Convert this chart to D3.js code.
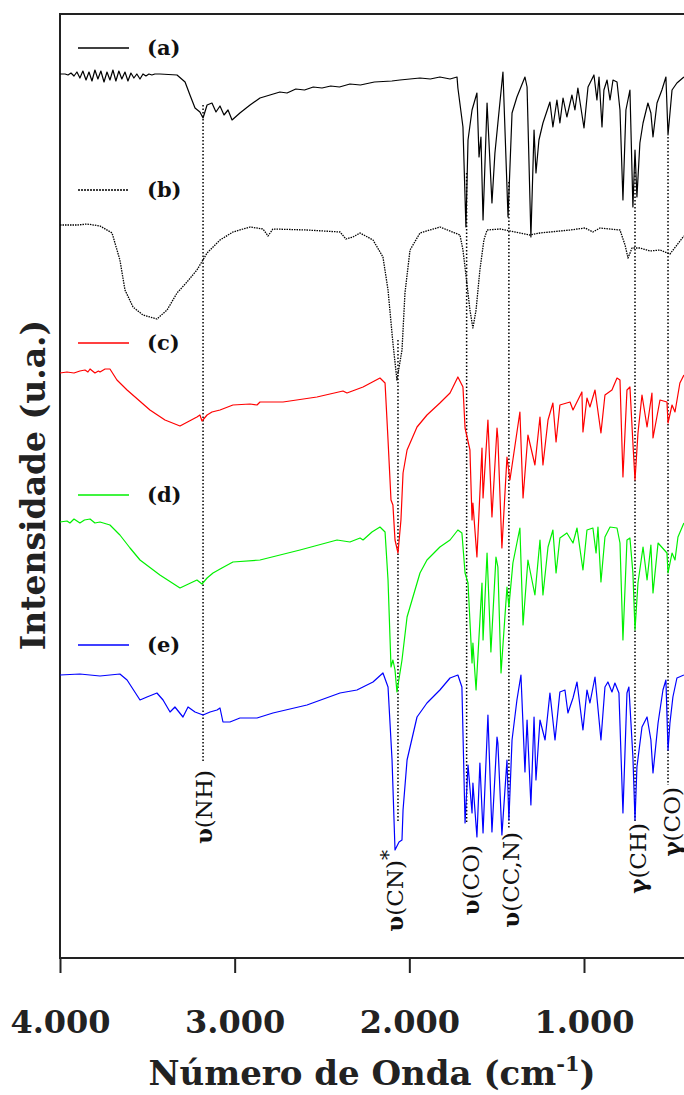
<!DOCTYPE html>
<html><head><meta charset="utf-8">
<script src="https://cdn.jsdelivr.net/npm/d3@7/dist/d3.min.js"></script>
<style>body{margin:0;background:#fff}</style>
</head><body><svg id="c" width="684" height="1095"></svg>
<script>
// ---------------- DATA ----------------
const majorTicks = [4000, 3000, 2000, 1000];
const tickLabels = ["4.000", "3.000", "2.000", "1.000"];
const minorTicks = [3800,3600,3400,3200,2800,2600,2400,2200,1800,1600,1400,1200,800,600,400];
const seriesNames = ["(a)", "(b)", "(c)", "(d)", "(e)"];
const seriesColors = ["#000000", "#000000", "#ff0000", "#00f000", "#0000ff"];

// [wavenumber (cm-1), intensity (u.a.)]
const specA = [[4000,884],[3971,884],[3954,883],[3937,885],[3920,882],[3903,886],[3886,880],[3869,887],[3851,878],[3834,886],[3817,877],[3800,888],[3783,879],[3766,887],[3748,876],[3731,886],[3714,878],[3697,888],[3680,877],[3663,887],[3646,879],[3628,886],[3611,877],[3594,885],[3577,880],[3560,884],[3542,879],[3525,884],[3508,882],[3491,884],[3474,883],[3457,884],[3428,884],[3330,883],[3284,876],[3256,863],[3227,850],[3199,846],[3181,840],[3158,853],[3130,855],[3107,846],[3084,852],[3061,843],[3038,848],[3015,838],[2970,845],[2912,853],[2855,860],[2798,863],[2741,866],[2700,865],[2650,869],[2600,868],[2550,871],[2500,870],[2450,872],[2400,871],[2340,874],[2280,873],[2200,876],[2100,877],[2054,878],[1939,880],[1880,879],[1825,881],[1767,879],[1727,881],[1722,870],[1693,831],[1676,731],[1664,818],[1641,848],[1613,865],[1601,801],[1590,821],[1578,738],[1555,855],[1527,755],[1510,805],[1493,835],[1464,886],[1435,741],[1412,845],[1384,861],[1338,881],[1326,871],[1304,721],[1286,828],[1275,785],[1258,818],[1235,835],[1195,856],[1178,831],[1155,858],[1138,835],[1120,860],[1098,841],[1069,863],[1052,848],[1035,870],[1000,830],[977,871],[943,883],[926,858],[914,881],[897,831],[886,868],[868,878],[851,858],[834,878],[811,876],[794,848],[777,758],[760,848],[737,868],[720,751],[708,808],[697,761],[680,815],[662,835],[634,855],[617,845],[605,821],[582,855],[554,868],[531,881],[519,823],[496,868],[468,875],[428,881]];

const specB = [[4000,733],[3900,733],[3845,734],[3771,732],[3702,725],[3657,698],[3628,668],[3582,651],[3525,643],[3445,639],[3387,648],[3330,665],[3273,676],[3216,688],[3158,705],[3084,718],[3010,726],[2912,731],[2838,729],[2809,722],[2781,729],[2586,728],[2397,726],[2363,719],[2323,721],[2282,725],[2208,718],[2151,701],[2122,668],[2094,615],[2071,578],[2042,608],[2025,665],[1996,708],[1939,725],[1825,731],[1710,723],[1693,708],[1676,683],[1653,648],[1636,630],[1618,648],[1596,688],[1573,718],[1555,728],[1481,729],[1309,723],[1252,725],[1080,728],[994,730],[949,726],[909,730],[794,728],[765,713],[748,700],[725,710],[680,710],[622,707],[565,708],[508,704],[468,713],[428,722]];

const specC = [[4000,585],[3960,586],[3920,585],[3886,587],[3857,588],[3840,586],[3828,589],[3800,585],[3780,587],[3771,586],[3742,589],[3714,589],[3674,578],[3616,568],[3485,548],[3399,538],[3313,532],[3216,541],[3199,543],[3187,537],[3158,543],[3130,546],[3084,548],[3010,553],[2912,554],[2872,553],[2855,556],[2723,556],[2529,561],[2380,567],[2357,565],[2265,571],[2168,580],[2139,575],[2122,518],[2105,458],[2094,453],[2082,418],[2065,405],[2048,438],[2036,485],[2013,508],[1956,531],[1899,543],[1825,555],[1767,565],[1722,581],[1693,571],[1681,530],[1653,508],[1641,438],[1636,455],[1613,401],[1584,510],[1578,460],[1550,538],[1527,441],[1498,530],[1493,520],[1470,410],[1441,501],[1424,478],[1367,546],[1349,460],[1321,523],[1281,493],[1252,541],[1235,493],[1206,538],[1178,555],[1160,516],[1138,553],[1080,556],[1063,548],[1012,566],[1006,526],[983,560],[966,551],[937,568],[903,525],[880,563],[840,568],[811,580],[794,578],[777,481],[754,568],[737,571],[720,515],[708,478],[691,525],[668,563],[639,531],[611,565],[605,520],[565,558],[525,556],[519,535],[496,553],[479,546],[451,575],[428,583]];

const specD = [[4000,436],[3960,437],[3943,435],[3920,439],[3886,435],[3860,438],[3828,439],[3800,435],[3771,436],[3714,433],[3657,423],[3599,410],[3542,398],[3428,383],[3313,370],[3216,378],[3187,374],[3158,380],[3124,385],[3073,390],[3010,396],[2855,398],[2626,408],[2414,418],[2340,416],[2282,420],[2265,418],[2214,426],[2168,431],[2139,426],[2122,378],[2105,291],[2094,298],[2082,288],[2071,266],[2042,298],[2013,341],[1939,385],[1899,398],[1825,411],[1767,418],[1722,428],[1699,425],[1681,385],[1664,375],[1641,295],[1636,315],[1618,268],[1584,375],[1578,318],[1555,405],[1533,306],[1504,401],[1493,391],[1475,285],[1441,371],[1430,351],[1407,395],[1367,430],[1349,333],[1321,398],[1281,363],[1252,418],[1235,363],[1206,411],[1178,428],[1160,385],[1138,420],[1098,425],[1063,415],[1040,430],[1006,388],[983,428],[949,430],[931,405],[920,431],[903,376],[880,421],[851,431],[811,430],[794,415],[777,318],[754,418],[737,420],[720,385],[708,328],[691,375],[662,411],[639,378],[617,413],[605,365],[576,415],[525,405],[519,385],[496,405],[479,398],[462,421],[428,435]];

const specE = [[4000,283],[3886,284],[3771,282],[3657,284],[3616,278],[3542,258],[3502,261],[3445,265],[3410,258],[3370,246],[3342,251],[3296,241],[3267,251],[3227,246],[3181,243],[3141,246],[3101,248],[3084,250],[3067,236],[3027,236],[2970,240],[2872,240],[2781,245],[2586,253],[2397,265],[2300,268],[2208,276],[2151,285],[2122,271],[2099,198],[2082,108],[2059,116],[2042,118],[2036,148],[2013,198],[1956,241],[1899,255],[1825,268],[1767,280],[1722,283],[1699,271],[1681,135],[1664,193],[1641,145],[1636,175],[1613,121],[1596,195],[1578,125],[1550,243],[1527,126],[1498,221],[1493,215],[1470,123],[1441,198],[1430,138],[1412,218],[1384,258],[1361,283],[1338,186],[1326,238],[1304,153],[1286,241],[1275,178],[1252,238],[1223,218],[1195,265],[1166,218],[1138,266],[1109,268],[1092,245],[1063,260],[1040,276],[1006,228],[983,268],[966,255],[937,281],[903,218],[880,271],[863,276],[840,266],[823,275],[800,265],[777,145],[754,265],[743,271],[720,201],[708,138],[697,191],[668,231],[639,241],[617,218],[605,185],[576,235],[548,268],[531,278],[519,208],[508,235],[491,261],[468,280],[428,283]];

// band assignments: wavenumber, line top/bottom intensity, label position (wn, intensity)
const bandLabels = ["υ(NH)", "υ(CN)", "υ(CO)", "υ(CC,N)", "γ(CH)", "γ(CO)"];
const bandWn     = [3181, 2065, 1672, 1430, 708, 519];
const bandTop    = [853, 618, 785, 776, 786, 821];
const bandBottom = [195, 135, 135, 130, 135, 173];
const labelWn    = [3130, 2036, 1601, 1372, 645, 450];
const labelTop   = [188, 108, 113, 126, 135, 171];

// ---------------- CHART ----------------
const spectra = [specA, specB, specC, specD, specE];
const svg = d3.select("#c");
const serif = "'DejaVu Serif', serif";
const x = d3.scaleLinear().domain([4000, 400]).range([60, 688.8]);
const y = d3.scaleLinear().domain([0, 944]).range([958, 14]);

// frame
svg.append("rect").attr("x", x(4000)).attr("y", y(944))
  .attr("width", x(400) - x(4000)).attr("height", y(0) - y(944))
  .attr("fill", "none").attr("stroke", "#222").attr("stroke-width", 2);

// band dotted lines
bandWn.forEach((w, i) => {
  svg.append("line").attr("x1", x(w)).attr("x2", x(w))
    .attr("y1", y(bandTop[i])).attr("y2", y(bandBottom[i]))
    .attr("stroke", "#000").attr("stroke-width", 1.5).attr("stroke-dasharray", "1.5,2");
});

// spectra
const line = d3.line().x(d => x(d[0])).y(d => y(d[1]));
spectra.forEach((s, i) => {
  svg.append("path").datum(s).attr("d", line)
    .attr("fill", "none").attr("stroke", seriesColors[i])
    .attr("stroke-width", i === 1 ? 1.3 : 1.2)
    .attr("stroke-linejoin", "round")
    .attr("stroke-dasharray", i === 1 ? "1.5,1" : null);
});

// legend
const legendYs = [48, 190, 343, 495, 645];
seriesNames.forEach((n, i) => {
  svg.append("line").attr("x1", 78).attr("x2", 129).attr("y1", legendYs[i]).attr("y2", legendYs[i])
    .attr("stroke", seriesColors[i]).attr("stroke-width", 1.3)
    .attr("stroke-dasharray", i === 1 ? "2,1" : null);
  svg.append("text").attr("x", 147).attr("y", legendYs[i] + 7)
    .attr("font-family", serif).attr("font-weight", "bold").attr("font-size", 21)
    .attr("fill", "#111").text(n);
});

// band labels (rotated)
bandLabels.forEach((lab, i) => {
  const t = svg.append("text")
    .attr("transform", `translate(${x(labelWn[i])},${y(labelTop[i])}) rotate(-90)`)
    .attr("text-anchor", "end").attr("font-family", serif).attr("font-size", 23).attr("fill", "#111");
  t.append("tspan").attr("font-weight", "bold").text(lab[0]);
  t.append("tspan").text(lab.slice(1));
  if (i === 1) t.append("tspan").attr("dy", -8).attr("font-size", 20).text("*");
});

// x axis ticks
const ax = svg.append("g").attr("transform", `translate(0,${y(0)})`);
ax.call(d3.axisBottom(x).tickValues(minorTicks).tickSize(8).tickFormat(""));
ax.call(d3.axisBottom(x).tickValues(majorTicks).tickSize(15).tickFormat((d, i) => tickLabels[i]));
ax.select(".domain").remove();
ax.selectAll("line").attr("stroke", "#222").attr("stroke-width", 2);
ax.selectAll("text").attr("y", 75).attr("dy", 0)
  .attr("font-family", serif).attr("font-weight", "bold").attr("font-size", 32).attr("fill", "#222");

// axis titles
const xt = svg.append("text").attr("x", 372).attr("y", 1085).attr("text-anchor", "middle")
  .attr("font-family", serif).attr("font-weight", "bold").attr("font-size", 34).attr("fill", "#222");
xt.append("tspan").text("Número de Onda (cm");
xt.append("tspan").attr("dy", -14).attr("font-size", 21).text("-1");
xt.append("tspan").attr("dy", 14).text(")");

svg.append("text").attr("transform", "translate(45,485) rotate(-90)").attr("text-anchor", "middle")
  .attr("font-family", serif).attr("font-weight", "bold").attr("font-size", 33).attr("fill", "#222")
  .text("Intensidade (u.a.)");
</script></body></html>
